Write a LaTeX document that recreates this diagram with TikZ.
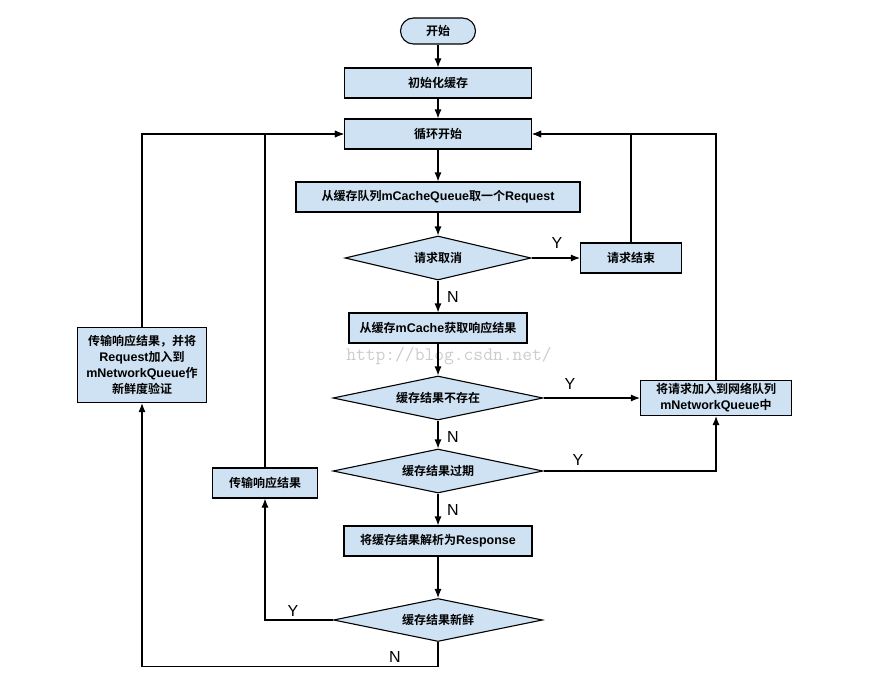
\documentclass[tikz,border=0pt]{standalone}
\usepackage{fontspec}
\setmainfont{Liberation Sans}
\newfontfamily\cjk{Noto Sans CJK SC Bold}
\usetikzlibrary{shapes.geometric,arrows.meta}
\definecolor{boxblue}{RGB}{207,226,243}
\newcommand{\lat}[1]{{\normalfont\bfseries\fontsize{12.5}{16}\selectfont #1}}

\begin{document}
\begin{tikzpicture}[x=1pt,y=1pt,line width=1.1pt,>={Latex[length=9pt,width=7pt]}]
		\tikzstyle{every node}+=[inner sep=0pt]
		\tikzstyle{stepbox}=[draw=black,fill=boxblue,rectangle,minimum height=30pt,align=center,font=\cjk\fontsize{12}{16}\selectfont]
		\tikzstyle{testbox}=[draw=black,fill=boxblue,diamond,aspect=4,minimum width=210pt,minimum height=44pt,font=\cjk\fontsize{12}{16}\selectfont]
		\tikzstyle{yn}=[font=\fontsize{16}{16}\selectfont]
		\useasboundingbox (0,0) rectangle (880,-690);
		\node [stepbox,rounded corners=13pt,minimum width=75pt,minimum height=26pt] (start) at (438,-31) {开始};
		\node [stepbox,minimum width=187pt] (init) at (438,-83) {初始化缓存};
		\node [stepbox,minimum width=187pt] (loop) at (438,-134) {循环开始};
		\node [stepbox,minimum width=284pt] (fetch) at (438,-197) {从缓存队列\lat{mCacheQueue}取一个\lat{Request}};
		\node [testbox,minimum width=186pt] (cancel) at (438,-258) {请求取消};
		\node [stepbox,minimum width=101pt] (finish) at (631,-258) {请求结束};
		\node [stepbox,minimum width=178pt] (getcache) at (438,-328) {从缓存\lat{mCache}获取响应结果};
		\node [testbox] (missing) at (438,-398) {缓存结果不存在};
		\node [stepbox,minimum width=151pt,minimum height=35pt] (queue) at (716,-398) {将请求加入到网络队列\\\lat{mNetworkQueue}中};
		\node [testbox] (expired) at (438,-471) {缓存结果过期};
		\node [stepbox,minimum width=188pt] (parse) at (438,-541) {将缓存结果解析为\lat{Response}};
		\node [testbox,minimum width=209pt,minimum height=43pt] (fresh) at (438,-620) {缓存结果新鲜};
		\node [stepbox,minimum width=105pt] (deliver) at (265,-483) {传输响应结果};
		\node [stepbox,minimum width=129pt,minimum height=75pt] (feedback) at (142,-365) {传输响应结果，并将\\\lat{Request}加入到\\\lat{mNetworkQueue}作\\新鲜度验证};
		\node [text=gray!40,font=\ttfamily\fontsize{19}{19}\selectfont] (watermark) at (449,-356) {http://blog.csdn.net/};
		\node [yn] (ycancel) at (557,-243) {Y};
		\node [yn] (ncancel) at (453,-297) {N};
		\node [yn] (ymissing) at (570,-384) {Y};
		\node [yn] (nmissing) at (453,-437) {N};
		\node [yn] (yexpired) at (578,-460) {Y};
		\node [yn] (nexpired) at (453,-510) {N};
		\node [yn] (yfresh) at (293,-611) {Y};
		\node [yn] (nfresh) at (395,-657) {N};
		\draw [->] (start) -- (init);
		\draw [->] (init) -- (loop);
		\draw [->] (loop) -- (fetch);
		\draw [->] (fetch) -- (cancel);
		\draw [->] (cancel) -- (finish);
		\draw [->] (finish.north) |- (loop.east);
		\draw [->] (cancel) -- (getcache);
		\draw [->] (getcache) -- (missing);
		\draw [->] (missing) -- (queue);
		\draw [->] (queue.north) |- (loop.east);
		\draw [->] (missing) -- (expired);
		\draw [->] (expired.east) -| (queue.south);
		\draw [->] (expired) -- (parse);
		\draw [->] (parse) -- (fresh);
		\draw [->] (fresh.west) -| (deliver.south);
		\draw [->] (deliver.north) |- (loop.west);
		\draw [->] (fresh.south) -- ++(0,-24) -| (feedback.south);
		\draw [->] (feedback.north) |- (loop.west);
\end{tikzpicture}
\end{document}
